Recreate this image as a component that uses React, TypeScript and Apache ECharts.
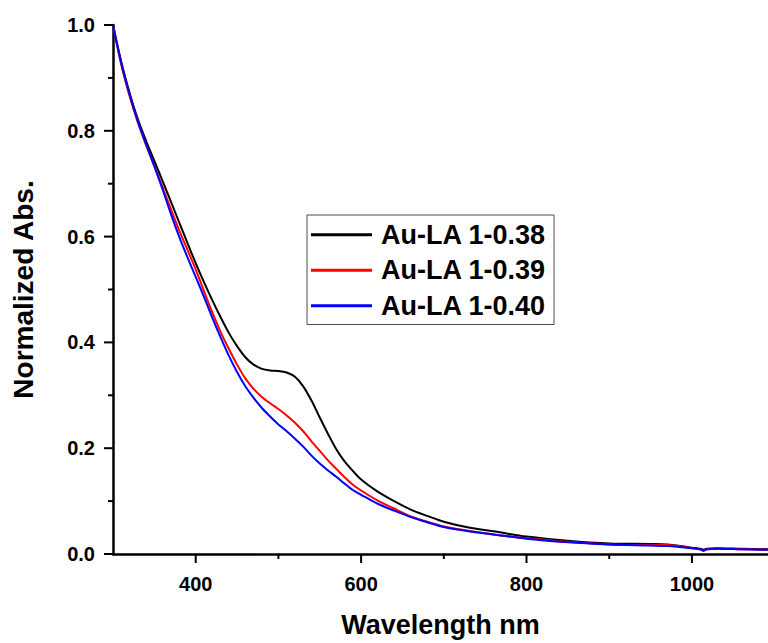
import React, { useEffect, useRef } from "react";
import * as echarts from "echarts";

const wavelengths = [
  300, 310, 320, 330, 340, 350, 360, 370, 380, 390, 400, 410, 420, 430, 440, 450,
  460, 470, 480, 490, 500, 510, 520, 530, 540, 550, 560, 570, 580, 590, 600, 620,
  640, 660, 680, 700, 730, 760, 800, 850, 900, 950, 970, 1000, 1010, 1014, 1018,
  1030, 1060, 1092,
];

const abs038 = [
  1.0, 0.93, 0.872, 0.822, 0.781, 0.743, 0.705, 0.666, 0.627, 0.588, 0.55, 0.514,
  0.48, 0.448, 0.418, 0.393, 0.372, 0.358, 0.35, 0.347, 0.346, 0.343, 0.335, 0.317,
  0.29, 0.258, 0.227, 0.198, 0.175, 0.157, 0.141, 0.118, 0.1, 0.084, 0.072, 0.061,
  0.05, 0.043, 0.033, 0.025, 0.02, 0.019, 0.018, 0.012, 0.01, 0.008, 0.01, 0.011,
  0.01, 0.009,
];

const abs039 = [
  1.0, 0.925, 0.866, 0.816, 0.773, 0.733, 0.693, 0.652, 0.612, 0.575, 0.538, 0.497,
  0.457, 0.42, 0.388, 0.358, 0.332, 0.312, 0.297, 0.285, 0.274, 0.262, 0.248, 0.232,
  0.213, 0.195, 0.177, 0.161, 0.145, 0.131, 0.12, 0.101, 0.086, 0.071, 0.061, 0.052,
  0.044, 0.037, 0.03, 0.023, 0.018, 0.017, 0.017, 0.011, 0.009, 0.006, 0.009, 0.01,
  0.009, 0.008,
];

const abs040 = [
  1.0, 0.928, 0.869, 0.818, 0.775, 0.733, 0.689, 0.643, 0.6, 0.561, 0.524, 0.486,
  0.447, 0.41, 0.375, 0.344, 0.317, 0.295, 0.276, 0.26, 0.245, 0.232, 0.218, 0.203,
  0.186, 0.171, 0.158, 0.146, 0.133, 0.121, 0.112, 0.095, 0.082, 0.07, 0.06, 0.051,
  0.043, 0.037, 0.029, 0.022, 0.018, 0.016, 0.015, 0.011, 0.009, 0.006, 0.009, 0.01,
  0.009, 0.008,
];

const seriesNames = ["Au-LA 1-0.38", "Au-LA 1-0.39", "Au-LA 1-0.40"];
const seriesColors = ["#000000", "#ff0000", "#0000ff"];
const seriesValues = [abs038, abs039, abs040];

const xMajorTicks = [400, 600, 800, 1000];
const xMinorTicks = [500, 700, 900];
const yMajorTicks = [0, 0.2, 0.4, 0.6, 0.8, 1.0];
const yMinorTicks = [0.1, 0.3, 0.5, 0.7, 0.9];

const X_MIN = 300;
const X_MAX = 1092;

const FONT = '"Liberation Sans", Arial, sans-serif';

function tickSeries(values: number[], dir: "x" | "y", len: number) {
  return {
    type: "custom",
    silent: true,
    clip: false,
    z: 5,
    data: values.map((v) => (dir === "x" ? [v, 0] : [X_MIN, v])),
    renderItem: (params: any, api: any) => {
      const p = api.coord([api.value(0), api.value(1)]);
      const cs = params.coordSys;
      if (dir === "x") {
        const y0 = cs.y + cs.height;
        return {
          type: "line",
          shape: { x1: p[0], y1: y0, x2: p[0], y2: y0 + len },
          style: { stroke: "#000", lineWidth: 2 },
        };
      }
      const x0 = cs.x;
      return {
        type: "line",
        shape: { x1: x0 - len, y1: p[1], x2: x0, y2: p[1] },
        style: { stroke: "#000", lineWidth: 2 },
      };
    },
  };
}

export default function App() {
  const ref = useRef<HTMLDivElement>(null);

  useEffect(() => {
    if (!ref.current) return;
    const chart = echarts.init(ref.current, undefined, { renderer: "svg" });
    chart.setOption({
      animation: false,
      backgroundColor: "#fff",
      grid: { left: 113, right: 0, top: 25, bottom: 86, containLabel: false },
      legend: {
        orient: "vertical",
        left: 307,
        top: 215,
        padding: [2, 8, 1, 4],
        itemWidth: 61,
        itemHeight: 3,
        itemGap: 0,
        backgroundColor: "#fff",
        borderColor: "#4d4d4d",
        borderWidth: 1,
        data: seriesNames.map((name) => ({ name, icon: "rect" })),
        textStyle: {
          fontFamily: FONT,
          fontWeight: "bold",
          fontSize: 27,
          color: "#000",
          lineHeight: 35.5,
          padding: [0, 0, 0, 4],
        },
      },
      xAxis: {
        type: "value",
        min: X_MIN,
        max: X_MAX,
        name: "Wavelength nm",
        nameLocation: "middle",
        nameGap: 57,
        nameTextStyle: { fontFamily: FONT, fontWeight: "bold", fontSize: 27, color: "#000" },
        axisLine: { show: true, onZero: false, lineStyle: { color: "#000", width: 2.5 } },
        splitLine: { show: false },
        axisTick: { show: false },
        axisLabel: {
          show: true,
          margin: 20,
          fontFamily: FONT,
          fontWeight: "bold",
          fontSize: 20,
          color: "#000",
          customValues: xMajorTicks,
          formatter: (v: number) => String(v),
        },
      },
      yAxis: {
        type: "value",
        min: 0,
        max: 1,
        interval: 0.2,
        name: "Normalized Abs.",
        nameLocation: "middle",
        nameGap: 76,
        nameTextStyle: { fontFamily: FONT, fontWeight: "bold", fontSize: 28, color: "#000" },
        axisLine: { show: true, onZero: false, lineStyle: { color: "#000", width: 2.5 } },
        splitLine: { show: false },
        axisTick: { show: false },
        axisLabel: {
          margin: 18,
          fontFamily: FONT,
          fontWeight: "bold",
          fontSize: 20,
          color: "#000",
          formatter: (v: number) => v.toFixed(1),
        },
      },
      series: [
        ...seriesNames.map((name, i) => ({
          name,
          type: "line",
          smooth: 0.3,
          symbol: "none",
          showSymbol: false,
          color: seriesColors[i],
          itemStyle: { color: seriesColors[i] },
          lineStyle: { color: seriesColors[i], width: 2 },
          data: wavelengths.map((w, j) => [w, seriesValues[i][j]]),
        })),
        tickSeries(xMajorTicks, "x", 9),
        tickSeries(xMinorTicks, "x", 5),
        tickSeries(yMajorTicks, "y", 9),
        tickSeries(yMinorTicks, "y", 5),
      ],
    });
    return () => chart.dispose();
  }, []);

  return (
    <div
      ref={ref}
      style={{ position: "absolute", left: 0, top: 0, width: 768, height: 643 }}
    />
  );
}
